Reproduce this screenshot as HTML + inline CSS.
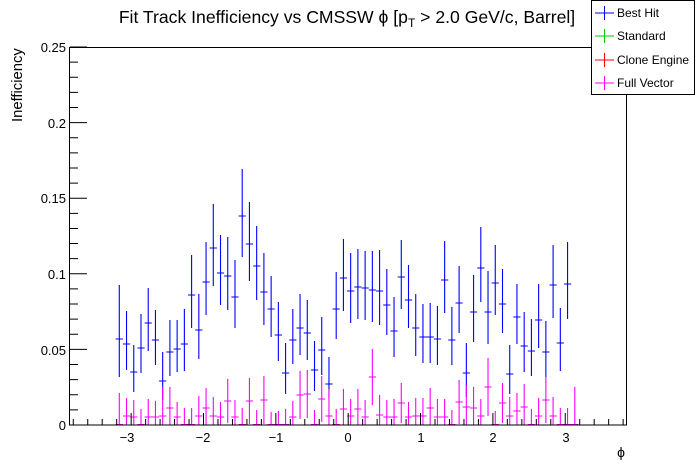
<!DOCTYPE html>
<html><head><meta charset="utf-8"><style>
html,body{margin:0;padding:0;background:#fff;width:696px;height:472px;overflow:hidden}
svg{display:block;font-family:"Liberation Sans",sans-serif}
</style></head><body>
<svg id="s" width="696" height="472" viewBox="0 0 696 472" xmlns="http://www.w3.org/2000/svg">
<rect width="696" height="472" fill="#fff"/>
<text x="347" y="23" font-size="17.6" text-anchor="middle">Fit Track Inefficiency vs CMSSW ϕ [p<tspan font-size="12" dy="4">T</tspan><tspan dy="-4"> &gt; 2.0 GeV/c, Barrel]</tspan></text>
<text transform="translate(22,122) rotate(-90)" font-size="14.8">Inefficiency</text>
<g font-size="13" text-anchor="end">
<text x="66" y="52">0.25</text>
<text x="66" y="128">0.2</text>
<text x="66" y="203">0.15</text>
<text x="66" y="279">0.1</text>
<text x="66" y="355">0.05</text>
<text x="66" y="430">0</text>
</g>
<g font-size="13" text-anchor="middle">
<text x="127" y="442">−3</text>
<text x="203" y="442">−2</text>
<text x="276" y="442">−1</text>
<text x="348" y="442">0</text>
<text x="421" y="442">1</text>
<text x="493" y="442">2</text>
<text x="566" y="442">3</text>
</g>
<text x="621" y="457" font-size="14" text-anchor="middle">ϕ</text>
<g id="data"></g>
<rect x="69.5" y="47.5" width="557" height="377.5" fill="none" stroke="#000" stroke-width="1"/>
<g id="ticks" stroke="#000" stroke-width="1"></g>
<rect x="591.5" y="0.5" width="103" height="94" fill="#fff" stroke="#000"/>
<g stroke-width="1">
<path d="M595 13H614M604.5 6V20" stroke="#0000ff"/>
<path d="M595 36H614M604.5 29V43" stroke="#00cc00"/>
<path d="M595 60H614M604.5 53V67" stroke="#ff0000"/>
<path d="M595 83H614M604.5 76V90" stroke="#ff00ff"/>
</g>
<g font-size="12">
<text x="617" y="17">Best Hit</text>
<text x="617" y="40">Standard</text>
<text x="617" y="64">Clone Engine</text>
<text x="617" y="87">Full Vector</text>
</g>
</svg>
<script>
var blue=[[339,285,377],[344,311,370],[372,345,392],[348,314,373],[323,288,351],[340,310,365],[381,352,400],[352,320,376],[349,320,372],[344,309,371],[295,255,328],[330,294,359],[282,242,315],[248,204,286],[273,235,305],[276,237,310],[297,260,328],[216,169,257],[244,202,281],[266,226,300],[292,253,325],[309,276,337],[335,302,361],[373,343,394],[340,309,364],[328,294,355],[333,300,360],[370,341,391],[350,317,375],[384,357,399],[309,272,339],[278,239,311],[291,253,323],[287,249,319],[288,251,320],[290,251,322],[291,250,325],[305,269,335],[331,297,357],[277,240,309],[300,265,328],[328,294,356],[337,304,363],[337,303,363],[339,306,365],[280,241,313],[340,307,365],[303,266,333],[373,343,397],[312,275,342],[268,227,302],[312,271,344],[283,245,315],[304,269,333],[374,345,394],[317,284,344],[346,312,372],[351,319,376],[320,284,348],[352,321,377],[285,245,318],[343,308,371],[284,242,319]];
var B=425;
var pink=[[B,393],[416,398],[417,400],[B,409],[417,399],[417,401],[416,387],[408,387],[417,402],[B,408],[B,408],[416,396],[408,388],[416,397],[417,402],[401,379],[417,400],[B,408],[401,378],[B,410],[400,376],[B,412],[B,411],[B,409],[417,401],[395,371],[394,370],[B,410],[399,376],[416,389],[B,409],[409,389],[416,399],[409,389],[417,400],[377,349],[415,395],[417,400],[417,399],[403,383],[417,402],[416,398],[416,398],[408,388],[417,399],[417,399],[B,410],[402,380],[407,385],[408,387],[416,399],[387,358],[B,411],[403,383],[416,397],[411,393],[407,384],[B,409],[416,398],[400,377],[416,397],[B,408],[B,408],[B,387]];
var ns="http://www.w3.org/2000/svg";
function X(k){return 119.3+7.23*k;}
var d1="",d2="";
blue.forEach(function(p,k){var x=X(k);d1+="M"+(x-3.6)+" "+p[0]+"H"+(x+3.6)+"M"+x+" "+p[1]+"V"+p[2];});
pink.forEach(function(p,k){var x=X(k);var y=Math.min(p[0],424.5);var lo=Math.min(425,p[0]+(p[0]-p[1]));d2+="M"+(x-3.6)+" "+y+"H"+(x+3.6)+"M"+x+" "+p[1]+"V"+lo;});
var g=document.getElementById("data");
[[d1,"#0000ff"],[d2,"#ff00ff"]].forEach(function(a){var e=document.createElementNS(ns,"path");e.setAttribute("d",a[0]);e.setAttribute("stroke",a[1]);e.setAttribute("stroke-width","1.1");e.setAttribute("fill","none");g.appendChild(e);});
var t="";
for(var i=0;i<=25;i++){var y=425-i*15.12;var L=(i%5==0)?17:8;t+="M70 "+y+"H"+(70+L);}
for(var r=-38;r<=38;r+=2){var x=348.2+72.35*r/10;if(x<70||x>626)continue;var L2=(r%10==0)?12:6;t+="M"+x+" 425V"+(425-L2);}
var e=document.createElementNS(ns,"path");e.setAttribute("d",t);document.getElementById("ticks").appendChild(e);
</script>
</body></html>
